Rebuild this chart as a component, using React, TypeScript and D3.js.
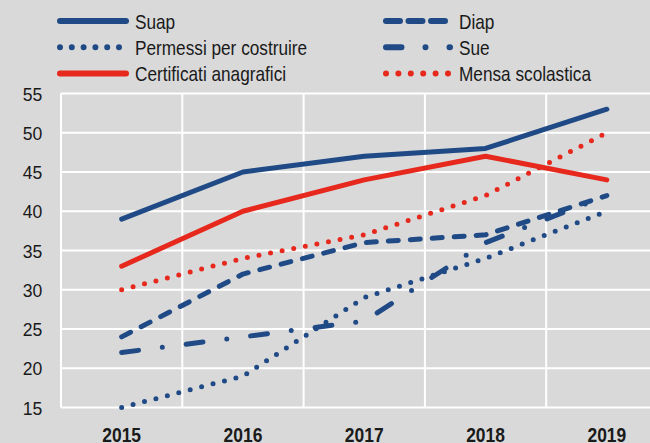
import { useEffect, useRef } from 'react';
import * as d3 from 'd3';

const years = ['2015', '2016', '2017', '2018', '2019'];
const yTicks = [15, 20, 25, 30, 35, 40, 45, 50, 55];

const suap = [39, 45, 47, 48, 53];
const diap = [24, 32, 36, 37, 42];
const permessi = [15, 19, 29, 34, 40];
const sue = [22, 24, 26, 36, 42];
const certificati = [33, 40, 44, 47, 44];
const mensa = [30, 34, 37, 42, 50];

const BLUE = '#1f4a85';
const RED = '#e6281d';

// dash = pattern in the plot, legendDash = pattern in the legend swatch
const series = [
  { name: 'Suap', values: suap, color: BLUE, dash: null, legendDash: null, col: 0, row: 0 },
  { name: 'Diap', values: diap, color: BLUE, dash: '10 12', legendDash: '14 8.5', col: 1, row: 0 },
  { name: 'Permessi per costruire', values: permessi, color: BLUE, dash: '0 11.8', legendDash: '0 11.8', col: 0, row: 1 },
  { name: 'Sue', values: sue, color: BLUE, dash: '17 24 0 24', legendDash: '15.5 24 0 24', col: 1, row: 1 },
  { name: 'Certificati anagrafici', values: certificati, color: RED, dash: null, legendDash: null, col: 0, row: 2 },
  { name: 'Mensa scolastica', values: mensa, color: RED, dash: '0 11.8', legendDash: '0 12.4', col: 1, row: 2 },
];

const FONT = "'Liberation Sans', Arial, sans-serif";

const App = () => {
  const ref = useRef<SVGSVGElement>(null);

  useEffect(() => {
    if (!ref.current) return;
    const svg = d3.select(ref.current);
    svg.selectAll('*').remove();

    const width = 650;
    const height = 443;
    const plotLeft = 61;
    const step = 121.3;

    svg.append('rect')
      .attr('width', width)
      .attr('height', height)
      .attr('fill', '#d9d9d9');

    const x = d3.scaleBand<string>()
      .domain(years)
      .range([plotLeft, plotLeft + step * years.length]);

    const y = d3.scaleLinear()
      .domain([15, 55])
      .range([407.5, 93.5]);

    // horizontal gridlines
    svg.append('g')
      .selectAll('line')
      .data(yTicks)
      .enter()
      .append('line')
      .attr('x1', plotLeft)
      .attr('x2', width)
      .attr('y1', d => y(d))
      .attr('y2', d => y(d))
      .attr('stroke', '#ffffff')
      .attr('stroke-width', 2);

    // vertical gridlines
    svg.append('g')
      .selectAll('line')
      .data(years)
      .enter()
      .append('line')
      .attr('x1', d => x(d)!)
      .attr('x2', d => x(d)!)
      .attr('y1', y(55))
      .attr('y2', y(15))
      .attr('stroke', '#ffffff')
      .attr('stroke-width', 2);

    // y tick labels (slightly condensed)
    svg.append('g')
      .selectAll('text')
      .data(yTicks)
      .enter()
      .append('text')
      .attr('transform', d => `translate(42.3,${y(d) + 7.2}) scale(0.94,1)`)
      .attr('text-anchor', 'end')
      .style('font-family', FONT)
      .style('font-size', '18.7px')
      .style('fill', '#1a1a1a')
      .text(d => d);

    // x tick labels
    svg.append('g')
      .selectAll('text')
      .data(years)
      .enter()
      .append('text')
      .attr('transform', d => `translate(${x(d)! + x.bandwidth() / 2},441.5) scale(0.83,1)`)
      .attr('text-anchor', 'middle')
      .style('font-family', FONT)
      .style('font-size', '21px')
      .style('font-weight', 'bold')
      .style('fill', '#1a1a1a')
      .text(d => d);

    const line = d3.line<number>()
      .x((d, i) => x(years[i])! + x.bandwidth() / 2)
      .y(d => y(d));

    // dotted/dashed first, solid on top
    const order = [2, 3, 1, 5, 4, 0];
    order.forEach(idx => {
      const s = series[idx];
      svg.append('path')
        .datum(s.values)
        .attr('d', line)
        .attr('fill', 'none')
        .attr('stroke', s.color)
        .attr('stroke-width', 5)
        .attr('stroke-linecap', 'round')
        .attr('stroke-linejoin', 'round')
        .attr('stroke-dasharray', s.dash);
    });

    // legend
    const legend = svg.append('g');
    series.forEach(s => {
      const lx = s.col === 0 ? 60 : 386;
      const len = s.col === 0 ? 66 : 64;
      const tx = s.col === 0 ? 135 : 459;
      const ly = 21 + s.row * 26.2;
      legend.append('line')
        .attr('x1', lx)
        .attr('x2', lx + len)
        .attr('y1', ly)
        .attr('y2', ly)
        .attr('stroke', s.color)
        .attr('stroke-width', 6)
        .attr('stroke-linecap', 'round')
        .attr('stroke-dasharray', s.legendDash);
      legend.append('text')
        .attr('transform', `translate(${tx},${ly + 7.5}) scale(0.82,1)`)
        .style('font-family', FONT)
        .style('font-size', '21px')
        .style('fill', '#1a1a1a')
        .text(s.name);
    });
  }, []);

  return (
    <div style={{ position: 'fixed', left: 0, top: 0 }}>
      <svg ref={ref} width={650} height={443} style={{ display: 'block' }} />
    </div>
  );
};

export default App;
